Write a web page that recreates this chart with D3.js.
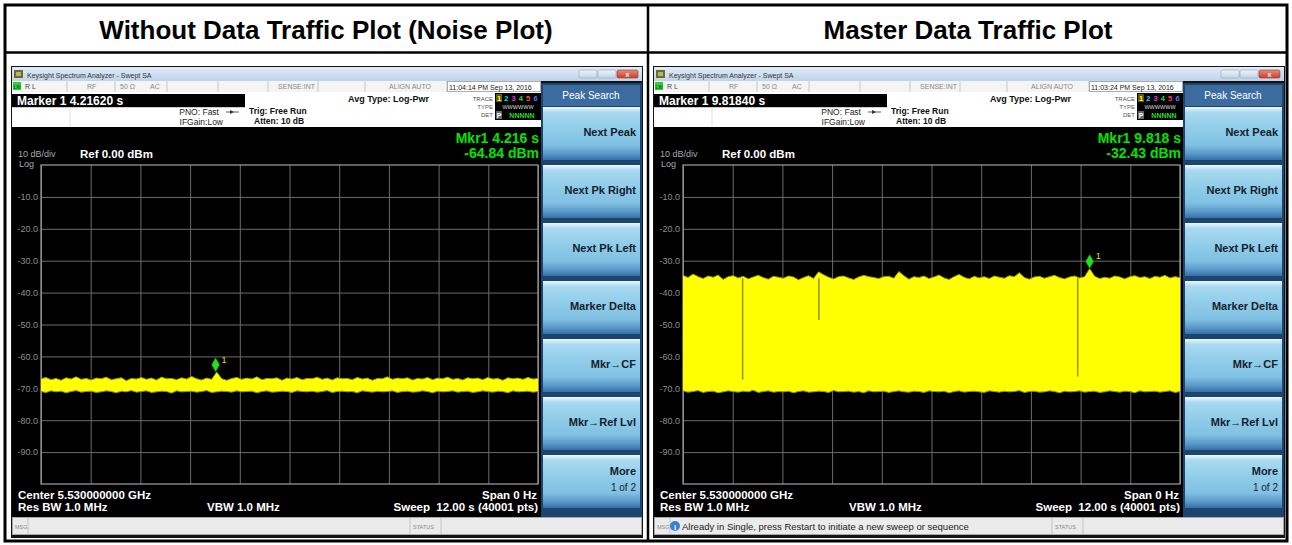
<!DOCTYPE html>
<html>
<head>
<meta charset="utf-8">
<script src="https://cdn.jsdelivr.net/npm/d3@7"></script>
<style>
  body { margin: 0; background: #fff; }
  svg { display: block; font-family: "Liberation Sans", Arial, sans-serif; }
</style>
</head>
<body>
<svg id="chart"></svg>
<script>
// ---- data ----
const panelTitles = ["Without Data Traffic Plot (Noise Plot)", "Master Data Traffic Plot"];
const markerReadout = ["Marker 1 4.21620 s", "Marker 1 9.81840 s"];
const markerTime = [4.216, 9.818];          // s
const markerLevel = [-64.84, -32.43];       // dBm
const mkrLine1 = ["Mkr1 4.216 s", "Mkr1 9.818 s"];
const mkrLine2 = ["-64.84 dBm", "-32.43 dBm"];
const clockText = ["11:04:14 PM Sep 13, 2016", "11:03:24 PM Sep 13, 2016"];
const msgText = ["", "Already in Single, press Restart to initiate a new sweep or sequence"];
const sweepTime = 12;
const levelTicks = [-10, -20, -30, -40, -50, -60, -70, -80, -90];
const timeDivs = [0, 1.2, 2.4, 3.6, 4.8, 6, 7.2, 8.4, 9.6, 10.8, 12];
const softkeys = ["Next Peak", "Next Pk Right", "Next Pk Left", "Marker Delta", "Mkr\u2192CF", "Mkr\u2192Ref Lvl", "More"];

// trace envelope (peak / valley per sweep bin), dBm
const noiseTop = [
  -67.0,-66.6,-67.3,-66.9,-67.5,-66.7,-67.1,-66.4,-67.2,-66.9,
  -67.4,-66.8,-67.0,-66.5,-67.3,-67.0,-66.7,-67.6,-66.9,-67.1,
  -66.6,-67.2,-66.8,-67.4,-66.5,-67.0,-66.9,-67.3,-66.7,-67.1,
  -66.3,-67.0,-67.4,-66.8,-67.2,-64.9,-67.0,-67.5,-66.9,-66.6,
  -67.2,-66.8,-67.1,-66.4,-67.3,-66.9,-67.0,-66.7,-67.5,-66.8,
  -67.1,-66.6,-67.3,-66.9,-67.0,-66.5,-67.2,-66.8,-67.4,-66.7,
  -67.0,-66.9,-67.3,-66.6,-67.1,-66.8,-67.5,-66.9,-67.0,-66.4,
  -67.2,-66.8,-67.0,-66.7,-67.4,-66.9,-67.1,-66.6,-67.3,-66.8,
  -67.0,-66.5,-67.2,-66.9,-67.4,-66.7,-67.0,-66.8,-67.3,-66.6,
  -67.1,-66.9,-67.5,-66.7,-67.0,-66.8,-67.2,-66.6,-67.1,-66.9
];
const noiseBottom = [
  -71.0,-71.3,-70.8,-71.1,-70.9,-71.4,-71.0,-70.7,-71.2,-71.0,
  -70.9,-71.3,-71.1,-70.8,-71.0,-71.4,-70.9,-71.1,-70.7,-71.2,
  -71.0,-70.8,-71.3,-71.1,-70.9,-71.0,-71.5,-70.8,-71.1,-71.0,
  -70.9,-71.2,-71.0,-70.7,-71.3,-71.1,-70.9,-71.0,-71.2,-70.8,
  -71.1,-71.0,-70.9,-71.4,-71.0,-70.8,-71.2,-71.1,-70.9,-71.0,
  -71.3,-70.8,-71.0,-71.1,-70.9,-71.2,-71.0,-70.7,-71.3,-71.0,
  -70.9,-71.1,-71.0,-71.4,-70.8,-71.0,-71.2,-70.9,-71.1,-71.0,
  -70.8,-71.3,-71.0,-70.9,-71.2,-71.1,-70.8,-71.0,-71.4,-70.9,
  -71.1,-71.0,-70.8,-71.2,-71.0,-70.9,-71.3,-71.1,-70.8,-71.0,
  -71.2,-70.9,-71.0,-71.4,-70.8,-71.1,-71.0,-70.9,-71.2,-71.0
];
const trafficTop = [
  -34.6,-35.3,-34.2,-35.0,-35.6,-34.8,-35.2,-34.5,-35.9,-35.0,
  -34.7,-35.4,-34.9,-35.7,-35.1,-34.6,-35.3,-35.8,-34.9,-35.2,
  -35.5,-34.8,-35.1,-36.0,-35.3,-34.7,-35.6,-33.5,-34.4,-35.2,
  -35.7,-35.0,-34.8,-35.4,-35.9,-35.1,-34.6,-35.0,-35.3,-35.6,
  -35.0,-34.9,-35.5,-33.4,-34.7,-35.8,-35.0,-35.3,-34.8,-35.6,
  -35.1,-34.5,-35.4,-35.9,-35.0,-34.3,-35.2,-35.7,-34.9,-35.4,
  -35.0,-35.6,-34.8,-35.2,-35.5,-34.7,-35.0,-33.8,-35.3,-35.8,
  -35.1,-34.9,-35.5,-35.0,-34.6,-35.3,-35.7,-35.1,-34.8,-35.4,
  -35.0,-32.5,-34.9,-35.6,-35.2,-35.5,-34.8,-35.1,-35.7,-35.0,
  -34.7,-35.3,-35.0,-35.6,-34.9,-35.2,-34.6,-35.4,-35.0,-35.3
];
const trafficBottom = [
  -70.8,-71.2,-71.0,-70.7,-71.3,-71.0,-70.9,-71.4,-71.1,-70.8,
  -71.0,-71.2,-70.9,-71.1,-70.6,-71.3,-71.0,-70.8,-71.2,-71.0,
  -71.1,-70.9,-71.4,-71.0,-70.8,-71.2,-71.1,-70.9,-71.0,-71.3,
  -70.7,-71.1,-71.0,-70.9,-71.2,-71.0,-71.4,-70.8,-71.1,-71.0,
  -70.9,-71.3,-71.0,-70.8,-71.1,-71.2,-70.9,-71.0,-71.3,-70.8,
  -71.0,-71.1,-70.9,-71.4,-71.0,-70.8,-71.2,-71.0,-70.9,-71.1,
  -71.3,-70.8,-71.0,-71.2,-70.9,-71.1,-71.0,-70.7,-71.3,-71.0,
  -70.9,-71.2,-71.1,-70.8,-71.0,-71.4,-70.9,-71.1,-71.0,-70.8,
  -71.2,-71.0,-70.9,-71.3,-71.1,-70.8,-71.0,-71.2,-70.9,-71.0,
  -71.4,-70.8,-71.1,-71.0,-70.9,-71.2,-71.0,-70.8,-71.3,-71.0
];
// short dropouts in the traffic sweep
const dropTimes = [1.44, 3.28, 9.53];
const dropLevels = [-67.3, -48.6, -66.3];

const traceTop = [noiseTop, trafficTop];
const traceBottom = [noiseBottom, trafficBottom];
const traceDrops = [[], dropTimes.map((t, k) => ({ t: t, v: dropLevels[k] }))];

// ---- layout ----
const W = 1292, H = 545;
const svg = d3.select("#chart").attr("width", W).attr("height", H);
const defs = svg.append("defs");

function vGrad(id, stops) {
  const gr = defs.append("linearGradient").attr("id", id)
    .attr("x1", 0).attr("y1", 0).attr("x2", 0).attr("y2", 1);
  stops.forEach(s => gr.append("stop").attr("offset", s[0]).attr("stop-color", s[1]));
}
vGrad("titlebar", [[0, "#e2ecf7"], [1, "#bfd3ea"]]);
vGrad("softkey", [[0, "#eef8fd"], [0.1, "#a9daf0"], [0.45, "#8dcbe8"], [0.72, "#80c0e2"], [0.88, "#5a98c8"], [1, "#3570a8"]]);
vGrad("closebtn", [[0, "#e98a7a"], [1, "#c8402c"]]);
vGrad("winbtn", [[0, "#eef3f9"], [1, "#c5d4e6"]]);

// table frame
svg.append("rect").attr("x", 5).attr("y", 5).attr("width", 1282).attr("height", 536)
  .attr("fill", "#fff").attr("stroke", "#000").attr("stroke-width", 3);
svg.append("line").attr("x1", 5).attr("x2", 1287).attr("y1", 52.5).attr("y2", 52.5)
  .attr("stroke", "#000").attr("stroke-width", 2.5);
svg.append("line").attr("x1", 648).attr("x2", 648).attr("y1", 5).attr("y2", 541)
  .attr("stroke", "#000").attr("stroke-width", 2.5);

svg.selectAll("text.ptitle")
  .data(panelTitles)
  .enter()
  .append("text")
  .attr("class", "ptitle")
  .attr("x", (d, i) => i === 0 ? 326 : 968)
  .attr("y", 39)
  .attr("text-anchor", "middle")
  .attr("font-size", "26px")
  .attr("font-weight", "bold")
  .attr("fill", "#000")
  .text(d => d);

function txt(g, x, y, s, size, fill, opts) {
  opts = opts || {};
  return g.append("text")
    .attr("x", x).attr("y", y)
    .attr("font-size", size + "px")
    .attr("fill", fill)
    .attr("font-weight", opts.bold ? "bold" : "normal")
    .attr("text-anchor", opts.anchor || "start")
    .style("white-space", "pre")
    .text(s);
}

function drawScreen(i) {
  const g = svg.append("g").attr("transform", `translate(${i * 642},0)`);

  // window frame and title bar
  g.append("rect").attr("x", 11).attr("y", 66).attr("width", 632).attr("height", 472).attr("fill", "#141414");
  g.append("rect").attr("x", 12).attr("y", 67).attr("width", 630).attr("height", 14).attr("fill", "url(#titlebar)");
  g.append("rect").attr("x", 14).attr("y", 70).attr("width", 9).attr("height", 8).attr("fill", "#6e6a2c");
  g.append("rect").attr("x", 16).attr("y", 72).attr("width", 5).attr("height", 4).attr("fill", "#b7b36a");
  txt(g, 27, 77.5, "Keysight Spectrum Analyzer - Swept SA", 7, "#333");
  [579, 598].forEach(bx => g.append("rect").attr("x", bx).attr("y", 70).attr("width", 18).attr("height", 8)
    .attr("rx", 1.5).attr("fill", "url(#winbtn)").attr("stroke", "#8ea4bf").attr("stroke-width", 0.6));
  g.append("rect").attr("x", 617).attr("y", 70).attr("width", 21).attr("height", 8).attr("rx", 1.5)
    .attr("fill", "url(#closebtn)").attr("stroke", "#8a3b2c").attr("stroke-width", 0.6);
  txt(g, 627.5, 77, "x", 7, "#fff", { anchor: "middle", bold: true });

  // status row
  g.append("rect").attr("x", 12).attr("y", 81).attr("width", 529).attr("height", 11).attr("fill", "#f4f4f4");
  g.append("rect").attr("x", 13).attr("y", 82).attr("width", 8).attr("height", 8).attr("fill", "#33cc33");
  txt(g, 17, 88.5, "LXI", 4.5, "#063", { anchor: "middle", bold: true });
  [67, 115, 167, 218, 268, 318, 365, 447].forEach(sx =>
    g.append("line").attr("x1", sx).attr("x2", sx).attr("y1", 81).attr("y2", 92).attr("stroke", "#c8c8c8"));
  g.append("rect").attr("x", 447.5).attr("y", 81.5).attr("width", 93).attr("height", 10)
    .attr("fill", "#fff").attr("stroke", "#999").attr("stroke-width", 0.8);
  txt(g, 25, 89, "R L", 7, "#444");
  txt(g, 87, 89, "RF", 7, "#888");
  txt(g, 120, 89, "50 \u03A9", 7, "#888");
  txt(g, 150, 89, "AC", 7, "#888");
  txt(g, 315, 89, "SENSE:INT", 7, "#888", { anchor: "end" });
  txt(g, 431, 89, "ALIGN AUTO", 7, "#888", { anchor: "end" });
  txt(g, 449, 89.5, clockText[i], 7, "#222");

  // settings area
  g.append("rect").attr("x", 12).attr("y", 92).attr("width", 529).attr("height", 35).attr("fill", "#fff");
  g.append("rect").attr("x", 12).attr("y", 94).attr("width", 233).attr("height", 13).attr("fill", "#000");
  txt(g, 17, 105, markerReadout[i], 12, "#fff", { bold: true });
  g.append("line").attr("x1", 12).attr("x2", 245).attr("y1", 107.5).attr("y2", 107.5).attr("stroke", "#ccc");
  g.append("line").attr("x1", 70).attr("x2", 70).attr("y1", 108).attr("y2", 127).attr("stroke", "#e2e2e2");
  txt(g, 219, 115, "PNO: Fast", 8.5, "#222", { anchor: "end" });
  txt(g, 223, 125, "IFGain:Low", 8.5, "#222", { anchor: "end" });
  g.append("line").attr("x1", 226).attr("x2", 239).attr("y1", 112).attr("y2", 112).attr("stroke", "#333").attr("stroke-width", 0.8);
  g.append("path").attr("d", "M230,110 L234,112 L230,114 Z").attr("fill", "#333");
  txt(g, 249, 114, "Trig: Free Run", 8.5, "#111", { bold: true });
  txt(g, 254, 124, "Atten: 10 dB", 8.5, "#111", { bold: true });
  txt(g, 348, 102, "Avg Type: Log-Pwr", 9, "#111", { bold: true });
  txt(g, 493, 101, "TRACE", 6, "#555", { anchor: "end" });
  txt(g, 493, 109, "TYPE", 6, "#555", { anchor: "end" });
  txt(g, 493, 117, "DET", 6, "#555", { anchor: "end" });
  g.append("rect").attr("x", 495).attr("y", 93).attr("width", 46).attr("height", 27).attr("fill", "#000");
  g.append("rect").attr("x", 496).attr("y", 94).attr("width", 6).attr("height", 8).attr("fill", "#5e5e00");
  ["#ffff33", "#22dddd", "#ee33ee", "#33dd33", "#ff4466", "#5577ff"].forEach((c, k) =>
    txt(g, 499 + k * 7.3, 101, String(k + 1), 7.5, c, { anchor: "middle", bold: true }));
  txt(g, 518, 109, "WWWWWW", 5.5, "#ddd", { anchor: "middle" });
  g.append("rect").attr("x", 496).attr("y", 111).attr("width", 6).attr("height", 8).attr("fill", "#666");
  txt(g, 499, 117.5, "P", 7, "#fff", { anchor: "middle", bold: true });
  txt(g, 522, 117.5, "NNNNN", 7, "#22dd22", { anchor: "middle", bold: true });

  // display
  g.append("rect").attr("x", 12).attr("y", 127).attr("width", 529).attr("height", 390).attr("fill", "#000");
  txt(g, 18, 157, "10 dB/div", 9, "#a8a8a8");
  txt(g, 19, 167, "Log", 9, "#a8a8a8");
  txt(g, 80, 158, "Ref 0.00 dBm", 11.5, "#fff", { bold: true });
  txt(g, 539, 142.5, mkrLine1[i], 14, "#00e600", { bold: true, anchor: "end" });
  txt(g, 539, 158, mkrLine2[i], 14, "#00e600", { bold: true, anchor: "end" });

  const x = d3.scaleLinear().domain([0, sweepTime]).range([41, 538]);
  const y = d3.scaleLinear().domain([0, -100]).range([165, 484]);

  const gx = g.append("g").attr("transform", "translate(0,484)")
    .call(d3.axisBottom(x).tickValues(timeDivs).tickSize(-319).tickFormat(""));
  gx.select(".domain").remove();
  gx.selectAll("line").attr("stroke", "#6c6c6c");

  const gy = g.append("g").attr("transform", "translate(41,0)")
    .call(d3.axisLeft(y).tickValues(levelTicks).tickSize(-497).tickPadding(3).tickFormat(d => d.toFixed(1)));
  gy.select(".domain").remove();
  gy.selectAll("line").attr("stroke", "#6c6c6c");
  gy.selectAll("text").attr("fill", "#8e8e8e").attr("font-size", "9px")
    .attr("font-family", "\"Liberation Sans\", Arial, sans-serif");

  g.append("rect").attr("x", 41).attr("y", 165).attr("width", 497).attr("height", 319)
    .attr("fill", "none").attr("stroke", "#a0a0a0").attr("stroke-width", 1.2);

  // trace
  const top = traceTop[i], bot = traceBottom[i];
  const pts = top.map((v, k) => ({ t: k * sweepTime / (top.length - 1), hi: v, lo: bot[k] }));
  const area = d3.area().x(d => x(d.t)).y0(d => y(d.lo)).y1(d => y(d.hi));
  g.append("path").attr("d", area(pts)).attr("fill", "#ffff00");
  g.append("path").attr("d", d3.line().x(d => x(d.t)).y(d => y(d.hi))(pts))
    .attr("fill", "none").attr("stroke", "#9a9a08").attr("stroke-width", 1);
  g.append("path").attr("d", d3.line().x(d => x(d.t)).y(d => y(d.lo))(pts))
    .attr("fill", "none").attr("stroke", "#9a9a08").attr("stroke-width", 1);

  g.selectAll("line.drop")
    .data(traceDrops[i])
    .enter()
    .append("line")
    .attr("class", "drop")
    .attr("x1", d => x(d.t)).attr("x2", d => x(d.t))
    .attr("y1", y(-35.5)).attr("y2", d => y(d.v))
    .attr("stroke", "#9c9c10").attr("stroke-width", 1.6);

  // marker
  const mx = x(markerTime[i]), my = y(markerLevel[i]);
  g.append("path")
    .attr("d", `M${mx},${my - 14} L${mx + 4},${my - 7} L${mx},${my} L${mx - 4},${my - 7} Z`)
    .attr("fill", "#22e022").attr("stroke", "#0b800b").attr("stroke-width", 0.6);
  txt(g, mx + 6, my - 9, "1", 9, "#e0e000");

  // bottom annotations
  txt(g, 18, 499, "Center 5.530000000 GHz", 11.5, "#fff", { bold: true });
  txt(g, 18, 511, "Res BW 1.0 MHz", 11.5, "#fff", { bold: true });
  txt(g, 207, 511, "VBW 1.0 MHz", 11.5, "#fff", { bold: true });
  txt(g, 537, 499, "Span 0 Hz", 11.5, "#fff", { bold: true, anchor: "end" });
  txt(g, 538, 511, "Sweep  12.00 s (40001 pts)", 11.5, "#fff", { bold: true, anchor: "end" });

  // message bar
  g.append("rect").attr("x", 12.5).attr("y", 517.5).attr("width", 629).attr("height", 17)
    .attr("fill", "#ebebeb").attr("stroke", "#a8a8a8");
  txt(g, 15, 529, "MSG", 5.5, "#888");
  g.append("line").attr("x1", 28).attr("x2", 28).attr("y1", 518).attr("y2", 534).attr("stroke", "#c4c4c4");
  g.append("line").attr("x1", 410).attr("x2", 410).attr("y1", 518).attr("y2", 534).attr("stroke", "#c4c4c4");
  g.append("line").attr("x1", 441).attr("x2", 441).attr("y1", 518).attr("y2", 534).attr("stroke", "#c4c4c4");
  txt(g, 413, 529, "STATUS", 5.5, "#888");
  if (msgText[i]) {
    g.append("circle").attr("cx", 33).attr("cy", 526).attr("r", 5).attr("fill", "#3b7fd8");
    txt(g, 33, 529.5, "i", 8, "#fff", { anchor: "middle", bold: true });
    txt(g, 40, 529.5, msgText[i], 9.5, "#222");
  }

  // softkey panel
  g.append("rect").attr("x", 541).attr("y", 83).attr("width", 101).attr("height", 434).attr("fill", "#1c446e");
  g.append("rect").attr("x", 543).attr("y", 85).attr("width", 97).attr("height", 21).attr("fill", "#3c6c9f");
  txt(g, 591, 98.5, "Peak Search", 10, "#fff", { anchor: "middle" });
  softkeys.forEach((s, k) => {
    const y0 = 107 + k * 58;
    g.append("rect").attr("x", 543).attr("y", y0).attr("width", 97).attr("height", 53).attr("fill", "url(#softkey)");
    if (s === "More") {
      txt(g, 636, y0 + 20, s, 11, "#16202c", { bold: true, anchor: "end" });
      txt(g, 636, y0 + 36, "1 of 2", 10, "#16202c", { anchor: "end" });
    } else {
      txt(g, 636, y0 + 29, s, 11, "#16202c", { bold: true, anchor: "end" });
    }
  });
}

[0, 1].forEach(drawScreen);
</script>
</body>
</html>
